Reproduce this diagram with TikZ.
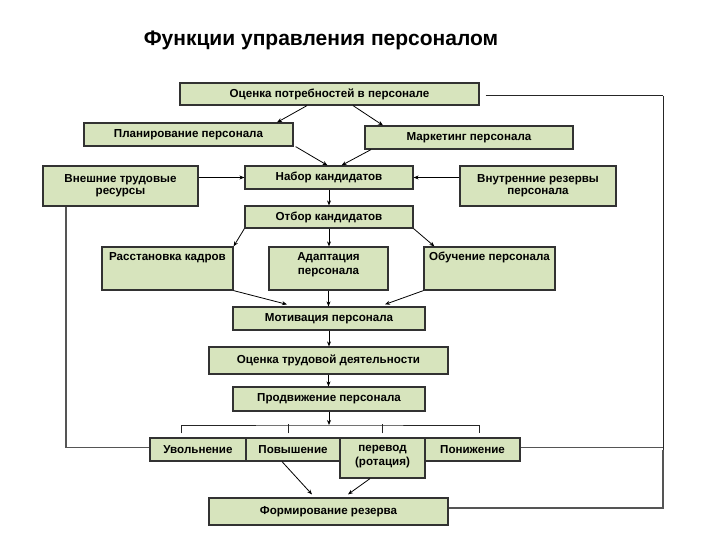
\documentclass[tikz,border=0pt]{standalone}
\usepackage{fontspec}
\setmainfont{Liberation Sans}
\usetikzlibrary{arrows.meta}
\definecolor{boxfill}{RGB}{215,228,189}
\definecolor{boxdraw}{RGB}{50,50,50}
\definecolor{gline}{RGB}{85,85,85}
\tikzset{
  box/.style={draw=boxdraw, line width=1.2pt, fill=boxfill, inner sep=0pt,
    font=\bfseries\fontsize{11.6}{12.3}\selectfont, align=center},
  txt/.style={inner sep=0pt, font=\bfseries\fontsize{11.6}{14}\selectfont, align=center},
  arr/.style={draw=black, line width=0.8pt, -{Stealth[length=5pt,width=4pt]}},
  fb/.style={draw=gline, line width=1.2pt},
  fbk/.style={draw=black!85, line width=1pt},
}
\begin{document}
\begin{tikzpicture}[x=1pt,y=-1pt]
\useasboundingbox (0,0) rectangle (720,540);
\node[font=\bfseries\fontsize{21}{24}\selectfont] (title) at (321,40) {Функции управления персоналом};

\node[box, minimum width=299pt, minimum height=22pt] (oc) at (329.5,94) {Оценка потребностей в персонале};
\node[box, minimum width=209pt, minimum height=23pt] (plan) at (188.5,134.5) {Планирование персонала};
\node[box, minimum width=208pt, minimum height=23pt] (mark) at (469,137.5) {Маркетинг персонала};
\node[box, minimum width=155pt, minimum height=40pt] (vnesh) at (120.5,186) {Внешние трудовые\\ресурсы};
\node[box, minimum width=168pt, minimum height=23pt] (nabor) at (329,177.5) {Набор кандидатов};
\node[box, minimum width=156pt, minimum height=40pt] (vnutr) at (538,186) {Внутренние резервы\\персонала};
\node[box, minimum width=168pt, minimum height=22pt] (otbor) at (329,217) {Отбор кандидатов};

\node[box, minimum width=131pt, minimum height=43pt] (rass) at (167.5,268.5) {};
\node[txt] (rasst) at (167.5,257.5) {Расстановка кадров};
\node[box, minimum width=119pt, minimum height=43pt] (adapt) at (328.5,268.5) {};
\node[txt] (adaptt) at (328.5,264.5) {Адаптация\\персонала};
\node[box, minimum width=131pt, minimum height=43pt] (obuch) at (489.5,268.5) {};
\node[txt] (obucht) at (489.5,257.5) {Обучение персонала};

\node[box, minimum width=192pt, minimum height=23pt] (motiv) at (329,318.5) {Мотивация персонала};
\node[box, minimum width=239pt, minimum height=27pt] (ots) at (328.5,360.5) {Оценка трудовой деятельности};
\node[box, minimum width=192pt, minimum height=24pt] (prodv) at (329,399) {Продвижение персонала};

\node[box, minimum width=96pt, minimum height=23pt] (uvol) at (198,449.5) {Увольнение};
\node[box, minimum width=94pt, minimum height=23pt] (povysh) at (293,449.5) {Повышение};
\node[box, minimum width=85pt, minimum height=40pt] (perevod) at (382.5,458) {};
\node[txt, font=\bfseries\fontsize{11.6}{13.3}\selectfont] (perevodt) at (382.5,456.5) {перевод\\(ротация)};
\node[box, minimum width=95pt, minimum height=23pt] (ponizh) at (472.5,449.5) {Понижение};
\node[box, minimum width=239pt, minimum height=27pt] (form) at (328.5,511.5) {Формирование резерва};

% arrows
\draw[arr] ([xshift=-22.5pt]oc.south) -- ([xshift=88.5pt]plan.north);
\draw[arr] ([xshift=23.5pt]oc.south) -- ([xshift=-86pt]mark.north);
\draw[arr] ([xshift=2pt]plan.south east) -- ([xshift=-1.5pt]nabor.north);
\draw[arr] ([xshift=-98pt]mark.south) -- ([xshift=12.5pt]nabor.north);
\draw[arr] (vnesh.east |- nabor.west) -- (nabor.west);
\draw[arr] (vnutr.west |- nabor.east) -- (nabor.east);
\draw[arr] (nabor.south) -- (otbor.north);
\draw[arr] (otbor.south west) -- (rass.north east);
\draw[arr] (otbor.south) -- (otbor.south |- adapt.north);
\draw[arr] (otbor.south east) -- ([xshift=11pt]obuch.north west);
\draw[arr] (rass.south east) -- ([xshift=-42pt,yshift=2pt]motiv.north);
\draw[arr] (adapt.south) -- (adapt.south |- motiv.north);
\draw[arr] (obuch.south west) -- ([xshift=56pt,yshift=2pt]motiv.north);
\draw[arr] (motiv.south) -- (motiv.south |- ots.north);
\draw[arr] (ots.south) -- (ots.south |- prodv.north);
\coordinate (brk) at (329,425);
\draw[arr] (prodv.south) -- (brk);

% bracket
\draw[fbk] ([xshift=-17pt,yshift=4pt]uvol.north) |- (brk) -| ([xshift=6.5pt,yshift=4pt]ponizh.north);
\draw[fbk] ([xshift=-5pt,yshift=4pt]povysh.north) -- ++(0,-9);
\draw[fbk] ([yshift=4pt]perevod.north) -- ++(0,-9);

\draw[arr] ([xshift=-11pt]povysh.south) -- ([xshift=-16.5pt,yshift=3pt]form.north);
\draw[arr] ([xshift=-12.5pt]perevod.south) -- ([xshift=19.5pt,yshift=3pt]form.north);

% feedback lines
\draw[fb] ([xshift=-54.5pt]vnesh.south) |- ([yshift=2pt]uvol.west);
\coordinate (rt) at (663,96);
\draw[fbk] ([xshift=6pt,yshift=-2pt]oc.east) -- (rt);
\draw[fbk] (rt) -- (rt |- ponizh.east);
\draw[fb] (rt |- ponizh.east) |- ([yshift=3.5pt]form.east);
\draw[fb] ([yshift=2pt]ponizh.east) -- ([yshift=2pt]ponizh.east -| rt);
\end{tikzpicture}
\end{document}
